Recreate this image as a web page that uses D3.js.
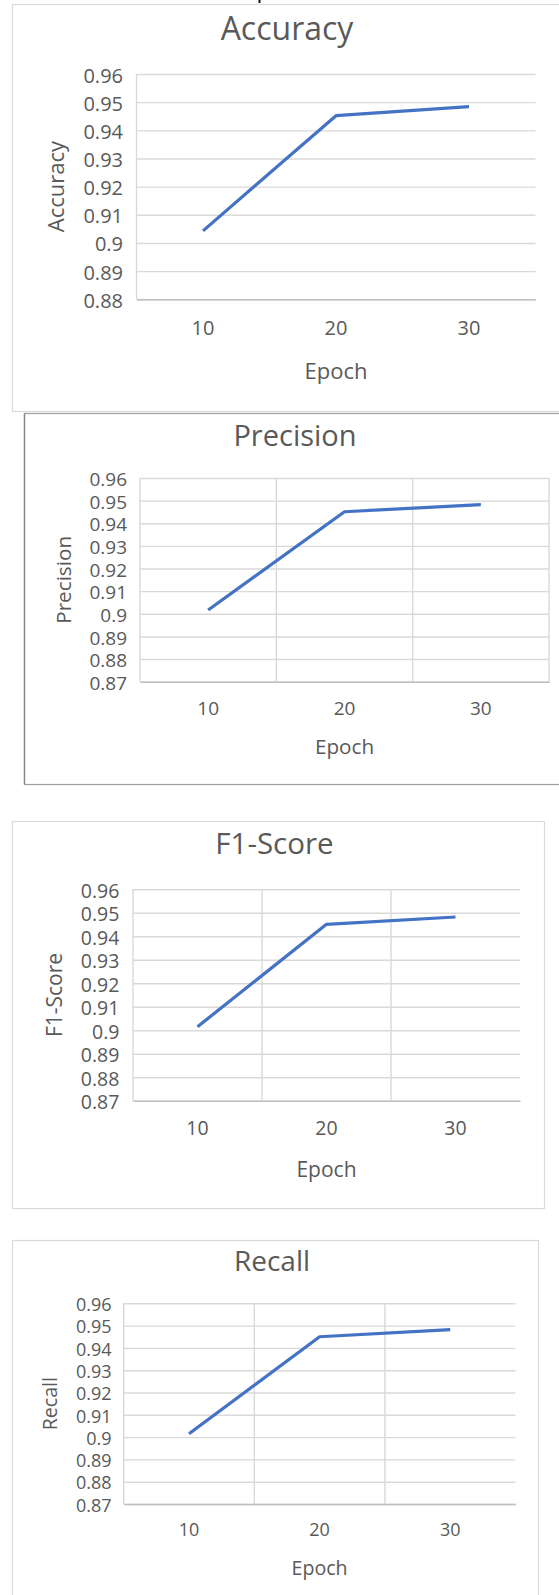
<!DOCTYPE html>
<html>
<head>
<meta charset="utf-8">
<script src="https://cdn.jsdelivr.net/npm/d3@7"></script>
<style>
  html, body { margin: 0; padding: 0; background: #fff; }
  svg { display: block; }
  text { font-family: "Open Sans", sans-serif; fill: #595959; }
</style>
</head>
<body>
<div id="chart"></div>
<script>
// data
const epochs = ["10", "20", "30"];
const accuracy = [0.9043, 0.9452, 0.9484];
const precision = [0.9017, 0.9451, 0.9482];
const f1Score = [0.9015, 0.9451, 0.9482];
const recall = [0.9015, 0.9450, 0.9482];
const accuracyTicks = [0.88, 0.89, 0.9, 0.91, 0.92, 0.93, 0.94, 0.95, 0.96];
const otherTicks = [0.87, 0.88, 0.89, 0.9, 0.91, 0.92, 0.93, 0.94, 0.95, 0.96];

const W = 559, H = 1595;
const svg = d3.select("#chart").append("svg").attr("width", W).attr("height", H);

// stray bit of text cut off at the very top of the screenshot
svg.append("rect").attr("x", 258.5).attr("y", 0).attr("width", 2).attr("height", 3).attr("fill", "#111");

// each panel is a separately scaled screenshot, so each has its own box
const panels = [
  { title: "Accuracy", values: accuracy, ticks: accuracyTicks,
    frame: { x: 12.5, y: 4.5, w: 600, h: 407, stroke: "#d9d9d9" },
    left: 136.5, right: 535.5, top: 74, bottom: 299.3, titleX: 287,
    titleY: 39.5, titleSize: 32, tickSize: 20, labelSize: 22,
    tickRight: 123, xTickBase: 335, epochBase: 379, yTitleX: 56, vgrid: "none" },
  { title: "Precision", values: precision, ticks: otherTicks,
    frame: { x: 24.5, y: 413.5, w: 600, h: 371, stroke: "#9d9d9d", left: "#888" },
    left: 140, right: 549, top: 478, bottom: 681.7, titleX: 295,
    titleY: 446, titleSize: 29, tickSize: 19, labelSize: 20.7,
    tickRight: 127, xTickBase: 715, epochBase: 754, yTitleX: 64, vgrid: "all" },
  { title: "F1-Score", values: f1Score, ticks: otherTicks,
    frame: { x: 12.5, y: 821.5, w: 532, h: 387, stroke: "#d9d9d9" },
    left: 133, right: 520, top: 889.3, bottom: 1100.7, titleX: 274.5,
    titleY: 854, titleSize: 29.5, tickSize: 19.5, labelSize: 21,
    tickRight: 119.4, xTickBase: 1135, epochBase: 1177, yTitleX: 55, vgrid: "inner" },
  { title: "Recall", values: recall, ticks: otherTicks,
    frame: { x: 12.5, y: 1240.5, w: 526, h: 400, stroke: "#d9d9d9" },
    left: 123.7, right: 515.5, top: 1303.3, bottom: 1504, titleX: 272,
    titleY: 1271, titleSize: 28, tickSize: 18, labelSize: 19.6,
    tickRight: 111.6, xTickBase: 1536, epochBase: 1575, yTitleX: 50.6, vgrid: "inner" }
];

const fmt = d => String(+d.toFixed(2));

panels.forEach(p => {
  const g = svg.append("g");
  const f = p.frame;

  // chart frame
  g.append("rect")
    .attr("x", f.x).attr("y", f.y).attr("width", f.w).attr("height", f.h)
    .attr("fill", "none").attr("stroke", f.stroke).attr("stroke-width", 1.2);
  if (f.left) {
    g.append("line").attr("x1", f.x).attr("x2", f.x).attr("y1", f.y).attr("y2", f.y + f.h)
      .attr("stroke", f.left).attr("stroke-width", 1.4);
  }

  const x = d3.scaleBand().domain(epochs).range([p.left, p.right]).padding(0);
  const y = d3.scaleLinear().domain(d3.extent(p.ticks)).range([p.bottom, p.top]);
  const plotW = p.right - p.left;

  // vertical gridlines at category boundaries
  let vx = [];
  if (p.vgrid === "inner") vx = epochs.slice(1).map(d => x(d));
  if (p.vgrid === "all") vx = epochs.slice(1).map(d => x(d)).concat([p.right]);
  g.selectAll(".vgrid").data(vx).enter().append("line")
    .attr("x1", d => d).attr("x2", d => d)
    .attr("y1", p.top).attr("y2", p.bottom)
    .attr("stroke", "#d9d9d9").attr("stroke-width", 1.4);

  // y axis with horizontal gridlines
  const yAxis = g.append("g")
    .attr("transform", `translate(${p.left},0)`)
    .call(d3.axisLeft(y).tickValues(p.ticks).tickFormat(fmt)
      .tickSizeInner(-plotW).tickSizeOuter(0).tickPadding(p.left - p.tickRight));
  yAxis.select(".domain").remove();
  yAxis.selectAll(".tick line").attr("stroke", "#d9d9d9").attr("stroke-width", 1.4);
  yAxis.selectAll(".tick text")
    .attr("font-size", p.tickSize).attr("dy", "0.4em")
    .style("font-family", "'Open Sans', sans-serif").attr("fill", "#595959");

  // left axis line
  g.append("line").attr("x1", p.left).attr("x2", p.left).attr("y1", p.top).attr("y2", p.bottom)
    .attr("stroke", "#d9d9d9").attr("stroke-width", 1.4);

  // x axis
  const xAxis = g.append("g")
    .attr("transform", `translate(0,${p.bottom})`)
    .call(d3.axisBottom(x).tickSize(0).tickPadding(p.xTickBase - p.bottom - 0.71 * p.tickSize));
  xAxis.select(".domain").attr("stroke", "#bfbfbf").attr("stroke-width", 1.6);
  xAxis.selectAll(".tick text")
    .attr("font-size", p.tickSize)
    .style("font-family", "'Open Sans', sans-serif").attr("fill", "#595959");

  // data line
  const line = d3.line()
    .x((d, i) => x(epochs[i]) + x.bandwidth() / 2)
    .y(d => y(d));
  g.append("path")
    .datum(p.values)
    .attr("d", line)
    .attr("fill", "none")
    .attr("stroke", "#4472c4")
    .attr("stroke-width", 3.2)
    .attr("stroke-linejoin", "round");

  // chart title
  g.append("text")
    .attr("x", p.titleX)
    .attr("y", p.titleY)
    .attr("text-anchor", "middle")
    .attr("font-size", p.titleSize)
    .text(p.title);

  // axis titles
  g.append("text")
    .attr("x", (p.left + p.right) / 2)
    .attr("y", p.epochBase)
    .attr("text-anchor", "middle")
    .attr("font-size", p.labelSize)
    .text("Epoch");

  g.append("text")
    .attr("transform", `translate(${p.yTitleX},${(p.top + p.bottom) / 2}) rotate(-90)`)
    .attr("text-anchor", "middle")
    .attr("dy", "0.35em")
    .attr("font-size", p.labelSize)
    .text(p.title);
});
</script>
</body>
</html>
